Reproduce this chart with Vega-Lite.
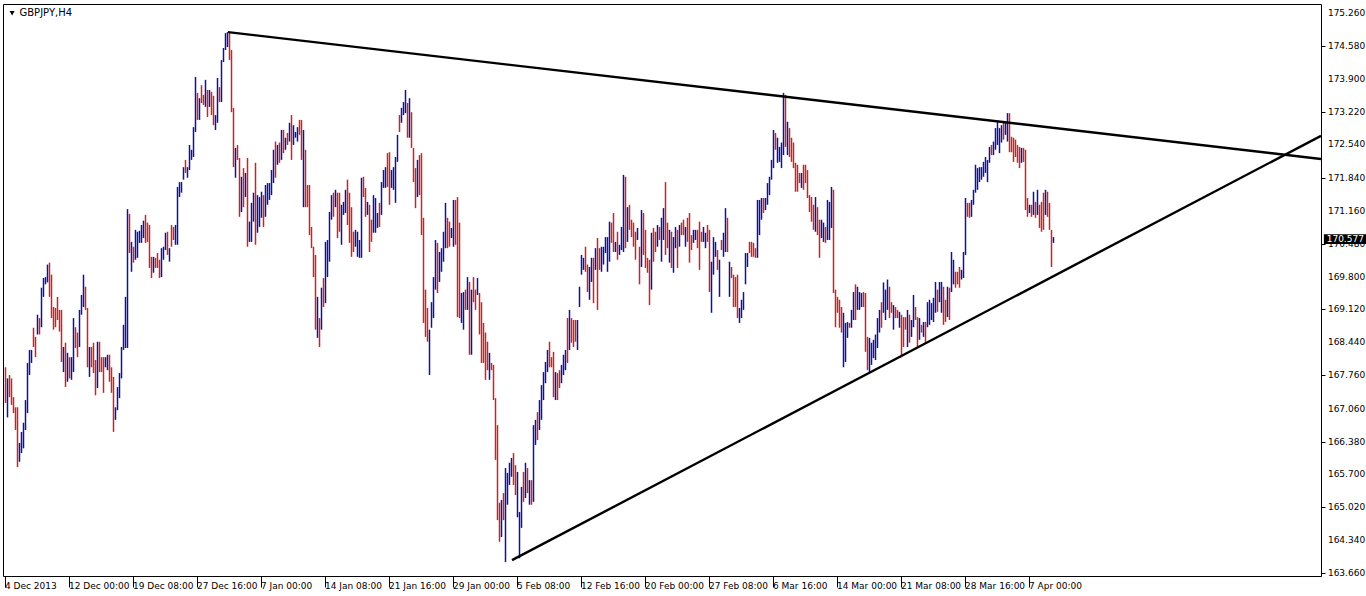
{
"$schema":"https://vega.github.io/schema/vega-lite/v6.json",
"width":1318,"height":572,
"autosize":{"type":"none"},
"padding":{"left":3,"top":4,"right":45,"bottom":20},
"background":"white",
"view":{"stroke":"black","strokeWidth":1,"fill":"white"},
"config":{"font":"DejaVu Sans","axis":{"labelOverlap":false,"labelFlush":false}},
"datasets":{
"bars":[
{"t":0,"h":167.92,"l":167.18,"c":"d"},{"t":1,"h":167.69,"l":166.88,"c":"u"},{"t":2,"h":167.76,"l":167.30,"c":"d"},{"t":3,"h":167.69,"l":167.14,"c":"d"},{"t":4,"h":167.30,"l":166.97,"c":"d"},{"t":5,"h":167.09,"l":166.62,"c":"d"},{"t":6,"h":167.09,"l":165.85,"c":"d"},{"t":7,"h":166.35,"l":165.96,"c":"u"},{"t":8,"h":166.58,"l":166.14,"c":"u"},{"t":9,"h":166.77,"l":166.24,"c":"u"},
{"t":10,"h":167.24,"l":166.62,"c":"u"},{"t":11,"h":168.01,"l":166.97,"c":"u"},{"t":12,"h":168.28,"l":167.76,"c":"u"},{"t":13,"h":168.28,"l":168.01,"c":"u"},{"t":14,"h":168.74,"l":168.34,"c":"d"},{"t":15,"h":168.55,"l":168.13,"c":"d"},{"t":16,"h":169.01,"l":168.60,"c":"u"},{"t":17,"h":168.94,"l":168.60,"c":"d"},{"t":18,"h":169.57,"l":168.75,"c":"u"},{"t":19,"h":169.77,"l":169.38,"c":"u"},
{"t":20,"h":169.79,"l":169.64,"c":"u"},{"t":21,"h":170.05,"l":169.68,"c":"u"},{"t":22,"h":170.09,"l":169.38,"c":"d"},{"t":23,"h":169.84,"l":168.94,"c":"d"},{"t":24,"h":169.17,"l":168.70,"c":"d"},{"t":25,"h":169.15,"l":168.75,"c":"d"},{"t":26,"h":169.38,"l":168.90,"c":"d"},{"t":27,"h":169.11,"l":168.66,"c":"d"},{"t":28,"h":169.11,"l":168.03,"c":"d"},{"t":29,"h":168.34,"l":167.82,"c":"u"},
{"t":30,"h":168.43,"l":167.51,"c":"d"},{"t":31,"h":168.22,"l":167.62,"c":"u"},{"t":32,"h":168.13,"l":167.69,"c":"d"},{"t":33,"h":168.13,"l":167.66,"c":"u"},{"t":34,"h":168.94,"l":167.82,"c":"u"},{"t":35,"h":168.75,"l":168.32,"c":"d"},{"t":36,"h":168.64,"l":168.13,"c":"d"},{"t":37,"h":169.11,"l":168.34,"c":"u"},{"t":38,"h":169.42,"l":169.01,"c":"u"},{"t":39,"h":169.84,"l":169.17,"c":"u"},
{"t":40,"h":169.59,"l":169.11,"c":"d"},{"t":41,"h":169.15,"l":167.92,"c":"d"},{"t":42,"h":168.34,"l":167.72,"c":"u"},{"t":43,"h":168.34,"l":167.92,"c":"d"},{"t":44,"h":168.43,"l":167.80,"c":"d"},{"t":45,"h":168.07,"l":167.34,"c":"d"},{"t":46,"h":168.45,"l":167.49,"c":"u"},{"t":47,"h":168.45,"l":167.82,"c":"d"},{"t":48,"h":168.13,"l":167.82,"c":"d"},{"t":49,"h":168.13,"l":167.39,"c":"d"},
{"t":50,"h":168.13,"l":167.92,"c":"u"},{"t":51,"h":168.18,"l":167.86,"c":"u"},{"t":52,"h":168.18,"l":167.62,"c":"d"},{"t":53,"h":167.92,"l":167.39,"c":"d"},{"t":54,"h":167.72,"l":166.58,"c":"d"},{"t":55,"h":167.09,"l":166.83,"c":"u"},{"t":56,"h":167.51,"l":167.03,"c":"u"},{"t":57,"h":167.80,"l":167.28,"c":"u"},{"t":58,"h":168.34,"l":167.69,"c":"u"},{"t":59,"h":168.80,"l":168.28,"c":"u"},
{"t":60,"h":169.38,"l":168.32,"c":"u"},{"t":61,"h":171.20,"l":168.32,"c":"u"},{"t":62,"h":171.10,"l":170.29,"c":"d"},{"t":63,"h":170.52,"l":169.90,"c":"u"},{"t":64,"h":170.42,"l":170.09,"c":"d"},{"t":65,"h":170.77,"l":170.15,"c":"u"},{"t":66,"h":170.73,"l":170.19,"c":"u"},{"t":67,"h":170.75,"l":170.50,"c":"u"},{"t":68,"h":170.87,"l":170.50,"c":"u"},{"t":69,"h":170.96,"l":170.60,"c":"u"},
{"t":70,"h":171.08,"l":170.50,"c":"d"},{"t":71,"h":170.92,"l":170.52,"c":"d"},{"t":72,"h":170.87,"l":169.98,"c":"d"},{"t":73,"h":170.21,"l":169.77,"c":"d"},{"t":74,"h":170.21,"l":169.88,"c":"u"},{"t":75,"h":170.19,"l":169.98,"c":"d"},{"t":76,"h":170.29,"l":169.98,"c":"d"},{"t":77,"h":170.15,"l":169.77,"c":"d"},{"t":78,"h":170.39,"l":169.79,"c":"u"},{"t":79,"h":170.42,"l":170.15,"c":"u"},
{"t":80,"h":170.71,"l":170.35,"c":"u"},{"t":81,"h":170.73,"l":170.25,"c":"d"},{"t":82,"h":170.39,"l":170.11,"c":"u"},{"t":83,"h":170.87,"l":170.42,"c":"d"},{"t":84,"h":170.83,"l":170.56,"c":"d"},{"t":85,"h":170.87,"l":170.46,"c":"u"},{"t":86,"h":171.66,"l":170.46,"c":"u"},{"t":87,"h":171.76,"l":171.45,"c":"u"},{"t":88,"h":171.76,"l":171.54,"c":"u"},{"t":89,"h":172.07,"l":171.81,"c":"u"},
{"t":90,"h":172.22,"l":171.95,"c":"d"},{"t":91,"h":172.07,"l":171.85,"c":"u"},{"t":92,"h":172.53,"l":172.01,"c":"u"},{"t":93,"h":172.43,"l":172.22,"c":"u"},{"t":94,"h":172.90,"l":172.28,"c":"u"},{"t":95,"h":173.94,"l":172.80,"c":"u"},{"t":96,"h":173.61,"l":173.05,"c":"d"},{"t":97,"h":173.50,"l":173.05,"c":"u"},{"t":98,"h":173.77,"l":173.40,"c":"d"},{"t":99,"h":173.57,"l":173.36,"c":"d"},
{"t":100,"h":173.88,"l":173.32,"c":"u"},{"t":101,"h":173.67,"l":173.11,"c":"d"},{"t":102,"h":173.67,"l":173.32,"c":"u"},{"t":103,"h":173.63,"l":173.15,"c":"d"},{"t":104,"h":173.55,"l":172.94,"c":"d"},{"t":105,"h":173.15,"l":172.84,"c":"u"},{"t":106,"h":173.92,"l":172.99,"c":"u"},{"t":107,"h":173.73,"l":173.42,"c":"d"},{"t":108,"h":174.29,"l":173.42,"c":"u"},{"t":109,"h":174.54,"l":174.25,"c":"u"},
{"t":110,"h":174.85,"l":174.50,"c":"u"},{"t":111,"h":174.87,"l":174.56,"c":"u"},{"t":112,"h":174.85,"l":174.29,"c":"d"},{"t":113,"h":174.50,"l":173.21,"c":"d"},{"t":114,"h":173.30,"l":172.07,"c":"d"},{"t":115,"h":172.47,"l":171.85,"c":"u"},{"t":116,"h":172.53,"l":172.22,"c":"d"},{"t":117,"h":172.26,"l":171.04,"c":"d"},{"t":118,"h":171.87,"l":171.14,"c":"u"},{"t":119,"h":172.05,"l":171.24,"c":"d"},
{"t":120,"h":171.95,"l":171.45,"c":"u"},{"t":121,"h":172.26,"l":170.42,"c":"d"},{"t":122,"h":170.94,"l":170.52,"c":"u"},{"t":123,"h":171.33,"l":170.52,"c":"u"},{"t":124,"h":171.54,"l":170.94,"c":"u"},{"t":125,"h":172.16,"l":170.46,"c":"d"},{"t":126,"h":171.49,"l":170.71,"c":"u"},{"t":127,"h":171.45,"l":170.83,"c":"u"},{"t":128,"h":171.56,"l":171.02,"c":"u"},{"t":129,"h":171.49,"l":170.83,"c":"d"},
{"t":130,"h":171.70,"l":171.04,"c":"u"},{"t":131,"h":171.74,"l":171.29,"c":"u"},{"t":132,"h":171.74,"l":171.39,"c":"u"},{"t":133,"h":172.01,"l":171.49,"c":"u"},{"t":134,"h":172.43,"l":171.74,"c":"u"},{"t":135,"h":172.60,"l":171.85,"c":"d"},{"t":136,"h":172.53,"l":172.12,"c":"u"},{"t":137,"h":172.58,"l":172.16,"c":"d"},{"t":138,"h":172.84,"l":172.22,"c":"u"},{"t":139,"h":172.84,"l":172.36,"c":"d"},
{"t":140,"h":172.68,"l":172.43,"c":"u"},{"t":141,"h":172.78,"l":172.53,"c":"d"},{"t":142,"h":172.99,"l":172.60,"c":"u"},{"t":143,"h":173.15,"l":172.22,"c":"d"},{"t":144,"h":172.94,"l":172.53,"c":"u"},{"t":145,"h":172.80,"l":172.68,"c":"u"},{"t":146,"h":172.90,"l":172.60,"c":"u"},{"t":147,"h":173.05,"l":172.74,"c":"d"},{"t":148,"h":173.05,"l":172.22,"c":"d"},{"t":149,"h":172.84,"l":171.24,"c":"u"},
{"t":150,"h":172.43,"l":171.24,"c":"d"},{"t":151,"h":171.70,"l":171.24,"c":"d"},{"t":152,"h":171.70,"l":170.66,"c":"d"},{"t":153,"h":170.83,"l":170.39,"c":"d"},{"t":154,"h":170.42,"l":169.79,"c":"d"},{"t":155,"h":170.25,"l":168.70,"c":"d"},{"t":156,"h":169.38,"l":168.53,"c":"u"},{"t":157,"h":168.94,"l":168.34,"c":"d"},{"t":158,"h":169.57,"l":168.70,"c":"u"},{"t":159,"h":169.77,"l":169.17,"c":"d"},
{"t":160,"h":170.52,"l":169.25,"c":"u"},{"t":161,"h":170.56,"l":169.79,"c":"u"},{"t":162,"h":171.14,"l":170.11,"c":"u"},{"t":163,"h":171.49,"l":170.98,"c":"u"},{"t":164,"h":171.54,"l":171.04,"c":"d"},{"t":165,"h":171.60,"l":171.24,"c":"u"},{"t":166,"h":171.54,"l":170.60,"c":"d"},{"t":167,"h":171.54,"l":170.73,"c":"d"},{"t":168,"h":171.29,"l":170.46,"c":"u"},{"t":169,"h":171.35,"l":171.08,"c":"u"},
{"t":170,"h":171.60,"l":171.12,"c":"u"},{"t":171,"h":171.81,"l":170.87,"c":"d"},{"t":172,"h":171.54,"l":170.50,"c":"d"},{"t":173,"h":171.24,"l":170.21,"c":"d"},{"t":174,"h":170.73,"l":170.31,"c":"d"},{"t":175,"h":170.77,"l":170.42,"c":"u"},{"t":176,"h":170.73,"l":170.21,"c":"u"},{"t":177,"h":170.56,"l":170.19,"c":"u"},{"t":178,"h":171.85,"l":170.19,"c":"u"},{"t":179,"h":171.87,"l":171.45,"c":"d"},
{"t":180,"h":171.64,"l":171.04,"c":"d"},{"t":181,"h":171.35,"l":171.08,"c":"u"},{"t":182,"h":171.29,"l":170.31,"c":"d"},{"t":183,"h":170.98,"l":170.52,"c":"d"},{"t":184,"h":171.49,"l":170.71,"c":"u"},{"t":185,"h":171.43,"l":170.71,"c":"u"},{"t":186,"h":171.12,"l":170.81,"c":"u"},{"t":187,"h":171.33,"l":170.83,"c":"d"},{"t":188,"h":171.76,"l":171.08,"c":"u"},{"t":189,"h":172.01,"l":171.64,"c":"u"},
{"t":190,"h":172.07,"l":171.64,"c":"u"},{"t":191,"h":172.36,"l":171.66,"c":"d"},{"t":192,"h":172.38,"l":171.29,"c":"d"},{"t":193,"h":172.01,"l":171.64,"c":"u"},{"t":194,"h":172.07,"l":171.60,"c":"u"},{"t":195,"h":172.28,"l":171.33,"c":"u"},{"t":196,"h":172.74,"l":172.18,"c":"u"},{"t":197,"h":173.15,"l":172.80,"c":"d"},{"t":198,"h":173.30,"l":172.99,"c":"u"},{"t":199,"h":173.42,"l":173.15,"c":"u"},
{"t":200,"h":173.67,"l":173.19,"c":"u"},{"t":201,"h":173.40,"l":172.68,"c":"d"},{"t":202,"h":173.50,"l":172.68,"c":"u"},{"t":203,"h":173.21,"l":172.47,"c":"d"},{"t":204,"h":172.47,"l":171.76,"c":"d"},{"t":205,"h":172.05,"l":171.22,"c":"d"},{"t":206,"h":172.22,"l":171.45,"c":"u"},{"t":207,"h":172.32,"l":171.49,"c":"d"},{"t":208,"h":172.36,"l":170.66,"c":"d"},{"t":209,"h":171.02,"l":168.84,"c":"d"},
{"t":210,"h":169.53,"l":168.55,"c":"d"},{"t":211,"h":169.15,"l":168.45,"c":"d"},{"t":212,"h":168.70,"l":167.76,"c":"u"},{"t":213,"h":169.27,"l":168.74,"c":"u"},{"t":214,"h":169.79,"l":168.94,"c":"u"},{"t":215,"h":170.56,"l":169.53,"c":"u"},{"t":216,"h":170.50,"l":169.46,"c":"d"},{"t":217,"h":170.31,"l":169.69,"c":"u"},{"t":218,"h":170.39,"l":169.90,"c":"u"},{"t":219,"h":170.73,"l":170.11,"c":"u"},
{"t":220,"h":171.33,"l":170.39,"c":"u"},{"t":221,"h":171.02,"l":170.39,"c":"d"},{"t":222,"h":170.94,"l":170.42,"c":"d"},{"t":223,"h":170.81,"l":170.60,"c":"u"},{"t":224,"h":171.39,"l":170.42,"c":"u"},{"t":225,"h":171.39,"l":170.46,"c":"d"},{"t":226,"h":171.45,"l":168.96,"c":"d"},{"t":227,"h":170.92,"l":168.94,"c":"d"},{"t":228,"h":169.46,"l":168.84,"c":"u"},{"t":229,"h":169.48,"l":168.70,"c":"u"},
{"t":230,"h":169.53,"l":169.11,"c":"d"},{"t":231,"h":169.79,"l":169.11,"c":"u"},{"t":232,"h":169.69,"l":168.18,"c":"d"},{"t":233,"h":169.53,"l":168.18,"c":"u"},{"t":234,"h":169.79,"l":169.27,"c":"d"},{"t":235,"h":169.53,"l":169.11,"c":"d"},{"t":236,"h":169.77,"l":169.42,"c":"u"},{"t":237,"h":169.46,"l":168.60,"c":"d"},{"t":238,"h":169.27,"l":168.01,"c":"d"},{"t":239,"h":168.84,"l":168.01,"c":"d"},
{"t":240,"h":168.64,"l":167.66,"c":"d"},{"t":241,"h":168.45,"l":167.86,"c":"d"},{"t":242,"h":168.22,"l":167.66,"c":"u"},{"t":243,"h":168.01,"l":167.86,"c":"d"},{"t":244,"h":167.97,"l":167.24,"c":"d"},{"t":245,"h":167.28,"l":166.00,"c":"d"},{"t":246,"h":166.72,"l":164.75,"c":"d"},{"t":247,"h":165.11,"l":164.30,"c":"d"},{"t":248,"h":165.17,"l":164.40,"c":"u"},{"t":249,"h":165.31,"l":164.75,"c":"d"},
{"t":250,"h":165.83,"l":163.88,"c":"u"},{"t":251,"h":165.73,"l":165.07,"c":"u"},{"t":252,"h":165.94,"l":165.48,"c":"u"},{"t":253,"h":166.04,"l":165.65,"c":"u"},{"t":254,"h":166.14,"l":165.48,"c":"d"},{"t":255,"h":165.89,"l":165.27,"c":"d"},{"t":256,"h":165.75,"l":164.81,"c":"u"},{"t":257,"h":164.92,"l":163.96,"c":"u"},{"t":258,"h":165.44,"l":164.59,"c":"u"},{"t":259,"h":165.75,"l":165.13,"c":"d"},
{"t":260,"h":165.94,"l":165.21,"c":"u"},{"t":261,"h":165.83,"l":165.31,"c":"d"},{"t":262,"h":165.58,"l":165.07,"c":"u"},{"t":263,"h":165.58,"l":165.07,"c":"d"},{"t":264,"h":166.72,"l":165.13,"c":"u"},{"t":265,"h":166.83,"l":166.31,"c":"u"},{"t":266,"h":166.99,"l":166.41,"c":"d"},{"t":267,"h":167.24,"l":166.62,"c":"u"},{"t":268,"h":167.55,"l":166.83,"c":"u"},{"t":269,"h":167.82,"l":167.24,"c":"u"},
{"t":270,"h":168.03,"l":167.59,"c":"u"},{"t":271,"h":168.28,"l":167.82,"c":"u"},{"t":272,"h":168.45,"l":167.92,"c":"d"},{"t":273,"h":168.13,"l":167.92,"c":"d"},{"t":274,"h":168.24,"l":167.30,"c":"d"},{"t":275,"h":167.82,"l":167.24,"c":"u"},{"t":276,"h":167.80,"l":167.24,"c":"d"},{"t":277,"h":167.86,"l":167.49,"c":"d"},{"t":278,"h":167.97,"l":167.59,"c":"u"},{"t":279,"h":168.18,"l":167.76,"c":"u"},
{"t":280,"h":168.28,"l":167.86,"c":"u"},{"t":281,"h":168.94,"l":168.01,"c":"d"},{"t":282,"h":169.11,"l":168.28,"c":"u"},{"t":283,"h":168.94,"l":168.43,"c":"d"},{"t":284,"h":168.90,"l":168.34,"c":"d"},{"t":285,"h":168.90,"l":168.45,"c":"d"},{"t":286,"h":168.90,"l":168.28,"c":"u"},{"t":287,"h":169.59,"l":169.17,"c":"u"},{"t":288,"h":170.25,"l":169.84,"c":"u"},{"t":289,"h":170.19,"l":169.94,"c":"u"},
{"t":290,"h":170.42,"l":169.90,"c":"d"},{"t":291,"h":170.05,"l":169.48,"c":"d"},{"t":292,"h":170.00,"l":169.32,"c":"u"},{"t":293,"h":170.19,"l":169.69,"c":"u"},{"t":294,"h":170.19,"l":169.25,"c":"d"},{"t":295,"h":170.39,"l":169.94,"c":"u"},{"t":296,"h":170.60,"l":169.11,"c":"d"},{"t":297,"h":170.39,"l":169.94,"c":"d"},{"t":298,"h":170.42,"l":169.90,"c":"u"},{"t":299,"h":170.42,"l":170.05,"c":"u"},
{"t":300,"h":170.62,"l":170.29,"c":"u"},{"t":301,"h":170.62,"l":169.90,"c":"u"},{"t":302,"h":170.94,"l":170.11,"c":"u"},{"t":303,"h":170.92,"l":170.50,"c":"d"},{"t":304,"h":171.12,"l":170.31,"c":"d"},{"t":305,"h":170.52,"l":170.31,"c":"u"},{"t":306,"h":170.73,"l":170.15,"c":"d"},{"t":307,"h":170.46,"l":170.25,"c":"u"},{"t":308,"h":170.83,"l":170.35,"c":"u"},{"t":309,"h":171.91,"l":170.31,"c":"u"},
{"t":310,"h":171.87,"l":170.39,"c":"d"},{"t":311,"h":171.24,"l":170.52,"c":"u"},{"t":312,"h":171.29,"l":170.77,"c":"d"},{"t":313,"h":170.98,"l":170.62,"c":"d"},{"t":314,"h":170.92,"l":170.42,"c":"d"},{"t":315,"h":170.73,"l":170.15,"c":"d"},{"t":316,"h":170.81,"l":170.56,"c":"u"},{"t":317,"h":170.42,"l":169.64,"c":"d"},{"t":318,"h":171.18,"l":170.00,"c":"u"},{"t":319,"h":171.12,"l":170.25,"c":"d"},
{"t":320,"h":170.77,"l":169.98,"c":"d"},{"t":321,"h":170.19,"l":169.88,"c":"d"},{"t":322,"h":170.15,"l":169.21,"c":"d"},{"t":323,"h":170.71,"l":169.53,"c":"u"},{"t":324,"h":170.81,"l":170.11,"c":"d"},{"t":325,"h":170.73,"l":170.31,"c":"d"},{"t":326,"h":170.87,"l":170.42,"c":"u"},{"t":327,"h":170.83,"l":170.56,"c":"d"},{"t":328,"h":171.02,"l":170.11,"c":"u"},{"t":329,"h":171.22,"l":170.56,"c":"u"},
{"t":330,"h":171.76,"l":170.25,"c":"d"},{"t":331,"h":170.92,"l":170.39,"c":"d"},{"t":332,"h":170.77,"l":170.09,"c":"u"},{"t":333,"h":170.73,"l":169.98,"c":"d"},{"t":334,"h":170.62,"l":169.88,"c":"u"},{"t":335,"h":170.83,"l":170.39,"c":"u"},{"t":336,"h":170.77,"l":169.98,"c":"d"},{"t":337,"h":170.87,"l":170.42,"c":"u"},{"t":338,"h":170.92,"l":170.66,"c":"d"},{"t":339,"h":170.98,"l":170.66,"c":"d"},
{"t":340,"h":170.83,"l":170.42,"c":"u"},{"t":341,"h":171.02,"l":170.52,"c":"d"},{"t":342,"h":171.12,"l":170.09,"c":"d"},{"t":343,"h":170.66,"l":170.35,"c":"d"},{"t":344,"h":170.77,"l":170.50,"c":"u"},{"t":345,"h":170.77,"l":170.56,"c":"u"},{"t":346,"h":170.77,"l":170.39,"c":"d"},{"t":347,"h":170.94,"l":169.94,"c":"d"},{"t":348,"h":170.73,"l":170.52,"c":"d"},{"t":349,"h":170.83,"l":170.52,"c":"u"},
{"t":350,"h":170.71,"l":170.39,"c":"u"},{"t":351,"h":170.87,"l":170.52,"c":"d"},{"t":352,"h":170.77,"l":169.48,"c":"d"},{"t":353,"h":170.11,"l":169.05,"c":"u"},{"t":354,"h":170.62,"l":169.84,"c":"u"},{"t":355,"h":170.52,"l":170.21,"c":"u"},{"t":356,"h":170.35,"l":169.94,"c":"d"},{"t":357,"h":170.15,"l":169.38,"c":"u"},{"t":358,"h":170.56,"l":170.35,"c":"d"},{"t":359,"h":170.71,"l":170.21,"c":"u"},
{"t":360,"h":171.22,"l":170.31,"c":"u"},{"t":361,"h":171.02,"l":170.31,"c":"d"},{"t":362,"h":170.11,"l":169.38,"c":"u"},{"t":363,"h":170.00,"l":169.77,"c":"d"},{"t":364,"h":169.84,"l":169.17,"c":"d"},{"t":365,"h":169.79,"l":169.17,"c":"d"},{"t":366,"h":169.84,"l":168.94,"c":"d"},{"t":367,"h":169.15,"l":168.84,"c":"u"},{"t":368,"h":169.32,"l":168.94,"c":"u"},{"t":369,"h":169.48,"l":169.11,"c":"u"},
{"t":370,"h":170.29,"l":169.64,"c":"u"},{"t":371,"h":170.29,"l":170.00,"c":"u"},{"t":372,"h":170.52,"l":170.29,"c":"d"},{"t":373,"h":170.52,"l":170.21,"c":"d"},{"t":374,"h":170.50,"l":170.21,"c":"d"},{"t":375,"h":170.39,"l":170.19,"c":"d"},{"t":376,"h":171.39,"l":170.19,"c":"u"},{"t":377,"h":171.39,"l":170.66,"c":"u"},{"t":378,"h":171.43,"l":170.98,"c":"u"},{"t":379,"h":171.43,"l":171.12,"c":"d"},
{"t":380,"h":171.43,"l":171.18,"c":"u"},{"t":381,"h":171.74,"l":171.29,"c":"u"},{"t":382,"h":171.87,"l":171.49,"c":"u"},{"t":383,"h":172.22,"l":171.81,"c":"u"},{"t":384,"h":172.84,"l":172.05,"c":"u"},{"t":385,"h":172.78,"l":172.43,"c":"d"},{"t":386,"h":172.68,"l":172.16,"c":"u"},{"t":387,"h":172.49,"l":172.18,"c":"u"},{"t":388,"h":172.58,"l":172.05,"c":"u"},{"t":389,"h":173.61,"l":172.32,"c":"u"},
{"t":390,"h":173.57,"l":172.49,"c":"d"},{"t":391,"h":173.01,"l":172.32,"c":"u"},{"t":392,"h":172.88,"l":172.28,"c":"d"},{"t":393,"h":172.68,"l":172.18,"c":"d"},{"t":394,"h":172.58,"l":172.05,"c":"d"},{"t":395,"h":172.16,"l":171.56,"c":"d"},{"t":396,"h":172.12,"l":171.56,"c":"d"},{"t":397,"h":171.95,"l":171.74,"c":"d"},{"t":398,"h":171.95,"l":171.64,"c":"u"},{"t":399,"h":172.12,"l":171.60,"c":"d"},
{"t":400,"h":172.12,"l":171.74,"c":"d"},{"t":401,"h":172.01,"l":171.43,"c":"d"},{"t":402,"h":171.49,"l":171.14,"c":"d"},{"t":403,"h":171.45,"l":170.94,"c":"d"},{"t":404,"h":171.29,"l":170.77,"c":"d"},{"t":405,"h":171.45,"l":170.73,"c":"u"},{"t":406,"h":171.24,"l":170.66,"c":"d"},{"t":407,"h":170.98,"l":170.19,"c":"d"},{"t":408,"h":170.98,"l":170.60,"c":"u"},{"t":409,"h":170.92,"l":170.52,"c":"u"},
{"t":410,"h":170.83,"l":170.50,"c":"d"},{"t":411,"h":171.39,"l":170.56,"c":"u"},{"t":412,"h":171.35,"l":170.56,"c":"u"},{"t":413,"h":171.66,"l":170.81,"c":"u"},{"t":414,"h":171.60,"l":169.46,"c":"d"},{"t":415,"h":169.53,"l":168.75,"c":"d"},{"t":416,"h":169.38,"l":169.05,"c":"d"},{"t":417,"h":169.32,"l":168.74,"c":"d"},{"t":418,"h":169.17,"l":168.64,"c":"d"},{"t":419,"h":169.05,"l":167.92,"c":"u"},
{"t":420,"h":168.84,"l":168.03,"c":"u"},{"t":421,"h":168.86,"l":168.53,"c":"u"},{"t":422,"h":168.84,"l":168.74,"c":"d"},{"t":423,"h":169.11,"l":168.74,"c":"u"},{"t":424,"h":169.48,"l":168.90,"c":"u"},{"t":425,"h":169.64,"l":168.90,"c":"d"},{"t":426,"h":169.59,"l":169.11,"c":"u"},{"t":427,"h":169.48,"l":169.11,"c":"u"},{"t":428,"h":169.46,"l":169.17,"c":"u"},{"t":429,"h":169.48,"l":169.17,"c":"d"},
{"t":430,"h":169.46,"l":168.24,"c":"d"},{"t":431,"h":168.55,"l":167.86,"c":"d"},{"t":432,"h":168.53,"l":167.80,"c":"u"},{"t":433,"h":168.43,"l":167.97,"c":"u"},{"t":434,"h":168.49,"l":168.11,"c":"u"},{"t":435,"h":168.60,"l":168.07,"c":"u"},{"t":436,"h":168.94,"l":168.32,"c":"u"},{"t":437,"h":169.11,"l":168.64,"c":"u"},{"t":438,"h":169.27,"l":168.74,"c":"d"},{"t":439,"h":169.68,"l":169.05,"c":"u"},
{"t":440,"h":169.53,"l":168.90,"c":"u"},{"t":441,"h":169.74,"l":169.11,"c":"u"},{"t":442,"h":169.59,"l":168.94,"c":"d"},{"t":443,"h":169.27,"l":169.05,"c":"d"},{"t":444,"h":169.21,"l":168.70,"c":"u"},{"t":445,"h":169.17,"l":168.94,"c":"d"},{"t":446,"h":169.11,"l":168.94,"c":"d"},{"t":447,"h":169.07,"l":168.74,"c":"u"},{"t":448,"h":169.01,"l":168.13,"c":"d"},{"t":449,"h":168.96,"l":168.34,"c":"d"},
{"t":450,"h":168.96,"l":168.70,"c":"d"},{"t":451,"h":169.11,"l":168.34,"c":"u"},{"t":452,"h":169.01,"l":168.43,"c":"d"},{"t":453,"h":168.90,"l":168.55,"c":"u"},{"t":454,"h":169.42,"l":168.75,"c":"u"},{"t":455,"h":169.17,"l":168.90,"c":"d"},{"t":456,"h":168.96,"l":168.34,"c":"d"},{"t":457,"h":168.94,"l":168.49,"c":"u"},{"t":458,"h":168.80,"l":168.64,"c":"d"},{"t":459,"h":168.86,"l":168.55,"c":"u"},
{"t":460,"h":168.86,"l":168.43,"c":"d"},{"t":461,"h":169.27,"l":168.75,"c":"u"},{"t":462,"h":169.32,"l":168.80,"c":"u"},{"t":463,"h":169.25,"l":168.90,"c":"u"},{"t":464,"h":169.36,"l":168.86,"c":"u"},{"t":465,"h":169.69,"l":169.05,"c":"u"},{"t":466,"h":169.53,"l":169.07,"c":"d"},{"t":467,"h":169.69,"l":169.27,"c":"u"},{"t":468,"h":169.69,"l":169.05,"c":"u"},{"t":469,"h":169.59,"l":168.80,"c":"d"},
{"t":470,"h":169.32,"l":168.86,"c":"d"},{"t":471,"h":169.59,"l":168.96,"c":"u"},{"t":472,"h":169.57,"l":168.90,"c":"d"},{"t":473,"h":170.31,"l":169.48,"c":"u"},{"t":474,"h":170.15,"l":169.64,"c":"u"},{"t":475,"h":169.90,"l":169.57,"c":"d"},{"t":476,"h":169.90,"l":169.64,"c":"d"},{"t":477,"h":170.00,"l":169.57,"c":"d"},{"t":478,"h":169.94,"l":169.74,"c":"u"},{"t":479,"h":170.31,"l":169.77,"c":"u"},
{"t":480,"h":171.43,"l":170.25,"c":"u"},{"t":481,"h":171.33,"l":171.04,"c":"d"},{"t":482,"h":171.33,"l":171.02,"c":"d"},{"t":483,"h":171.39,"l":171.04,"c":"u"},{"t":484,"h":171.60,"l":171.29,"c":"u"},{"t":485,"h":172.12,"l":171.54,"c":"u"},{"t":486,"h":172.05,"l":171.60,"c":"u"},{"t":487,"h":172.07,"l":171.76,"c":"u"},{"t":488,"h":172.07,"l":171.81,"c":"u"},{"t":489,"h":172.18,"l":171.87,"c":"u"},
{"t":490,"h":172.28,"l":171.95,"c":"u"},{"t":491,"h":172.22,"l":171.76,"c":"u"},{"t":492,"h":172.49,"l":172.16,"c":"u"},{"t":493,"h":172.53,"l":172.32,"c":"d"},{"t":494,"h":172.60,"l":172.32,"c":"u"},{"t":495,"h":172.88,"l":172.43,"c":"u"},{"t":496,"h":173.01,"l":172.53,"c":"u"},{"t":497,"h":172.88,"l":172.36,"c":"u"},{"t":498,"h":172.94,"l":172.58,"c":"u"},{"t":499,"h":172.99,"l":172.64,"c":"d"},
{"t":500,"h":172.99,"l":172.74,"c":"u"},{"t":501,"h":173.19,"l":172.60,"c":"u"},{"t":502,"h":173.19,"l":172.38,"c":"d"},{"t":503,"h":172.70,"l":172.38,"c":"d"},{"t":504,"h":172.68,"l":172.18,"c":"d"},{"t":505,"h":172.64,"l":172.28,"c":"d"},{"t":506,"h":172.53,"l":172.16,"c":"d"},{"t":507,"h":172.49,"l":172.05,"c":"d"},{"t":508,"h":172.47,"l":172.16,"c":"u"},{"t":509,"h":172.47,"l":172.18,"c":"d"},
{"t":510,"h":172.43,"l":171.18,"c":"d"},{"t":511,"h":171.43,"l":171.04,"c":"d"},{"t":512,"h":171.29,"l":171.12,"c":"u"},{"t":513,"h":171.29,"l":171.04,"c":"d"},{"t":514,"h":171.56,"l":171.08,"c":"u"},{"t":515,"h":171.35,"l":171.02,"c":"d"},{"t":516,"h":171.60,"l":171.08,"c":"u"},{"t":517,"h":171.29,"l":170.81,"c":"d"},{"t":518,"h":171.35,"l":170.73,"c":"d"},{"t":519,"h":171.54,"l":170.77,"c":"d"},
{"t":520,"h":171.60,"l":171.08,"c":"u"},{"t":521,"h":171.56,"l":171.04,"c":"d"},{"t":522,"h":171.33,"l":170.77,"c":"d"},{"t":523,"h":170.77,"l":170.00,"c":"d"},{"t":524,"h":170.62,"l":170.50,"c":"u"}
],
"trend":[
{"line":"a","t":111.25,"p":174.87},{"line":"a","t":657.75,"p":172.24},
{"line":"b","t":253.25,"p":163.92},{"line":"b","t":657.75,"p":172.72}
],
"yticks":[
{"v":175.26,"s":"175.260"},{"v":174.58,"s":"174.580"},{"v":173.90,"s":"173.900"},{"v":173.22,"s":"173.220"},{"v":172.54,"s":"172.540"},{"v":171.84,"s":"171.840"},{"v":171.16,"s":"171.160"},{"v":170.48,"s":"170.480"},{"v":169.80,"s":"169.800"},
{"v":169.12,"s":"169.120"},{"v":168.44,"s":"168.440"},{"v":167.76,"s":"167.760"},{"v":167.06,"s":"167.060"},{"v":166.38,"s":"166.380"},{"v":165.70,"s":"165.700"},{"v":165.02,"s":"165.020"},{"v":164.34,"s":"164.340"},{"v":163.66,"s":"163.660"}
],
"price":[{"p":170.577,"top":170.676,"bot":170.478,"lbl":"170.577"}],
"title":[{"lbl":"GBPJPY,H4"}]
},
"layer":[
{"data":{"name":"bars"},"mark":{"type":"rule","strokeWidth":1.5,"opacity":1,"strokeCap":"butt"},
"encoding":{
"x":{"field":"t","type":"quantitative","scale":{"domain":[-1.25,657.75],"nice":false,"zero":false},
 "axis":{"orient":"bottom","title":null,"grid":false,"domain":false,
  "values":[-0.5,31.5,63.5,95.5,127.5,159.5,191.5,223.5,255.5,287.5,319.5,351.5,383.5,415.5,447.5,479.5,511.5],
  "labelExpr":"['4 Dec 2013','12 Dec 00:00','19 Dec 08:00','27 Dec 16:00','7 Jan 00:00','14 Jan 08:00','21 Jan 16:00','29 Jan 00:00','5 Feb 08:00','12 Feb 16:00','20 Feb 00:00','27 Feb 08:00','6 Mar 16:00','14 Mar 00:00','21 Mar 08:00','28 Mar 16:00','7 Apr 00:00'][round((datum.value+0.5)/32)]",
  "tickSize":11,"tickColor":"black","tickWidth":1,"labelAlign":"left","labelBaseline":"middle","labelPadding":-2,"labelDx":2,
  "labelFont":"DejaVu Sans","labelFontSize":9,"labelColor":"black","labelFlush":false,"labelOverlap":false,"labelBound":false}},
"y":{"field":"l","type":"quantitative","scale":{"domain":[163.592,175.453],"nice":false,"zero":false},
 "axis":{"orient":"right","title":null,"grid":false,"domain":false,"labels":false,
  "values":[175.26,174.58,173.9,173.22,172.54,171.84,171.16,170.48,169.8,169.12,168.44,167.76,167.06,166.38,165.7,165.02,164.34,163.66],
  "tickSize":4,"tickColor":"black"}},
"y2":{"field":"h"},
"stroke":{"field":"c","type":"nominal","scale":{"domain":["u","d"],"range":["#1010a8","#d02020"]},"legend":null}
}},
{"data":{"name":"trend"},"mark":{"type":"line","color":"black","strokeWidth":2.4,"clip":true},
"encoding":{"x":{"field":"t","type":"quantitative"},"y":{"field":"p","type":"quantitative"},"detail":{"field":"line","type":"nominal"}}},
{"data":{"name":"yticks"},"mark":{"type":"text","color":"black","align":"left","baseline":"middle","font":"DejaVu Sans","fontSize":9,"clip":false},
"encoding":{"x":{"datum":661.2,"type":"quantitative"},"y":{"field":"v","type":"quantitative"},"text":{"field":"s"}}},
{"data":{"name":"price"},"mark":{"type":"rect","color":"black","clip":false},
"encoding":{"x":{"datum":659.2,"type":"quantitative"},"x2":{"datum":680.5},"y":{"field":"top","type":"quantitative"},"y2":{"field":"bot"}}},
{"data":{"name":"price"},"mark":{"type":"text","color":"white","align":"center","baseline":"middle","font":"DejaVu Sans","fontSize":9,"clip":false},
"encoding":{"x":{"datum":669.9,"type":"quantitative"},"y":{"field":"p","type":"quantitative"},"text":{"field":"lbl"}}},
{"data":{"name":"title"},"mark":{"type":"text","color":"black","align":"left","baseline":"middle","font":"DejaVu Sans","fontSize":10},
"encoding":{"x":{"datum":7.0,"type":"quantitative"},"y":{"datum":175.27,"type":"quantitative"},"text":{"field":"lbl"}}},
{"data":{"name":"title"},"mark":{"type":"point","shape":"triangle-down","filled":true,"color":"black","size":26,"opacity":1},
"encoding":{"x":{"datum":3.3,"type":"quantitative"},"y":{"datum":175.26,"type":"quantitative"}}}
]
}
